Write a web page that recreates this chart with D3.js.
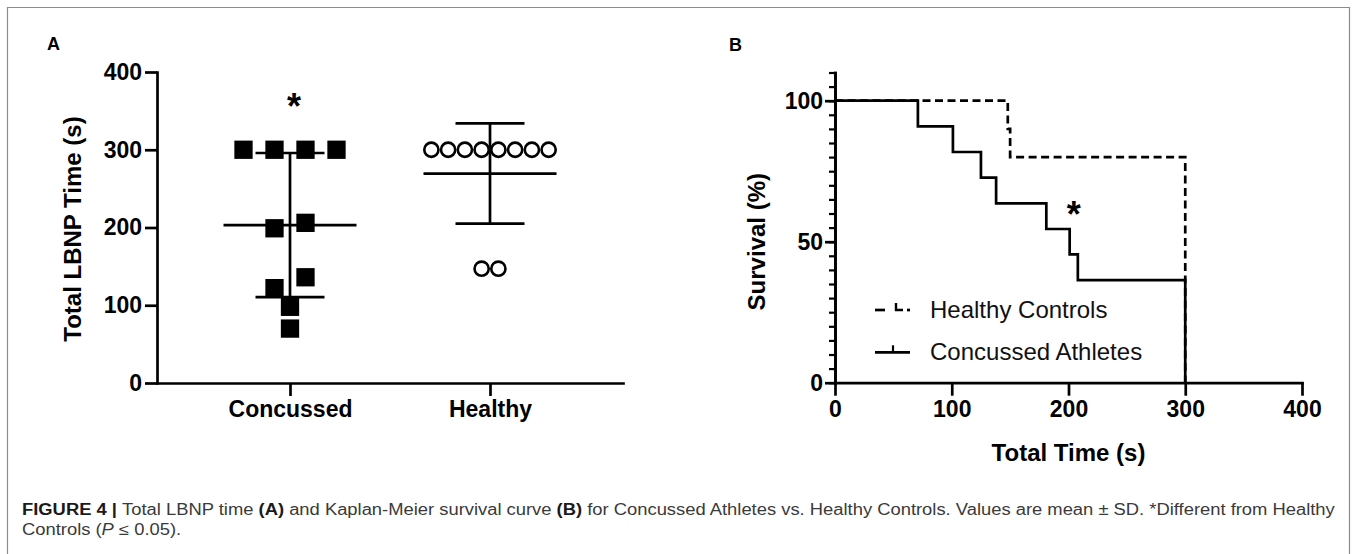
<!DOCTYPE html>
<html>
<head>
<meta charset="utf-8">
<script src="https://cdn.jsdelivr.net/npm/d3@7"></script>
<style>
  html, body { margin: 0; padding: 0; background: #fff; }
  svg { display: block; }
</style>
</head>
<body>
<script>
// ---------------- DATA ----------------
// Panel A: Total LBNP time (s)
const catsA = ["Concussed", "Healthy"];
const concussedValues = [300, 300, 300, 300, 206, 199, 136, 122, 98, 70];
const healthyValues = [300, 300, 300, 300, 300, 300, 300, 300, 147, 147];
const yTicksA = [0, 100, 200, 300, 400];

// Panel B: Kaplan-Meier survival (%)
const concussedTimes = [0, 71, 101, 125, 138, 181, 201, 208, 300];
const concussedSurv  = [100, 90.9, 81.8, 72.7, 63.6, 54.5, 45.5, 36.4, 0];
const healthyTimes = [0, 148, 150, 300];
const healthySurv  = [100, 90, 80, 0];
const xTicksB = [0, 100, 200, 300, 400];
const yTicksB = [0, 50, 100];
const legendLabels = ["Healthy Controls", "Concussed Athletes"];

// ---------------- SETUP ----------------
const W = 1357, H = 554;
const FONT = "'Liberation Sans', Arial, Helvetica, sans-serif";
const LW = 2.7;
const svg = d3.select("body").append("svg").attr("width", W).attr("height", H);
svg.append("rect").attr("width", W).attr("height", H).attr("fill", "#fff");

// frame
svg.append("path")
  .attr("d", "M7.5,554 V7.5 H1349.5 V554")
  .attr("fill", "none").attr("stroke", "#8c8c8c").attr("stroke-width", 1.2);

function styleAxis(g, fontSize) {
  g.selectAll(".domain").attr("stroke", "#000").attr("stroke-width", LW).attr("stroke-linecap", "square");
  g.selectAll(".tick line").attr("stroke", "#000").attr("stroke-width", LW);
  g.selectAll(".tick text").attr("fill", "#000").attr("font-family", FONT)
    .attr("font-weight", "bold").attr("font-size", fontSize);
}

// ---------------- PANEL A ----------------
const yA = d3.scaleLinear().domain([0, 400]).range([383, 72]);
const xA = d3.scalePoint().domain(catsA).range([157, 623]).padding(0.665);

svg.append("text").attr("x", 47).attr("y", 50).text("A")
  .attr("font-family", FONT).attr("font-weight", "bold").attr("font-size", 18);

const gAy = svg.append("g").attr("transform", "translate(157,0)")
  .call(d3.axisLeft(yA).tickValues(yTicksA).tickSize(12).tickSizeOuter(0).tickPadding(3).tickFormat(d3.format("d")));
styleAxis(gAy, 23);
const gAx = svg.append("g").attr("transform", "translate(0,383)")
  .call(d3.axisBottom(xA).tickSize(13).tickSizeOuter(0).tickPadding(5));
styleAxis(gAx, 23);

svg.append("text")
  .attr("transform", "translate(81,229) rotate(-90)")
  .attr("text-anchor", "middle")
  .attr("font-family", FONT).attr("font-weight", "bold").attr("font-size", 24)
  .text("Total LBNP Time (s)");

// layout of points in rows (GraphPad-like scatter)
function rowLayout(values, size, spacing) {
  const items = values.map((v, i) => ({ v, i })).sort((a, b) => b.v - a.v);
  const clusters = [];
  items.forEach(it => {
    const last = clusters[clusters.length - 1];
    if (last && Math.abs(yA(it.v) - yA(last[0].v)) < size) last.push(it);
    else clusters.push([it]);
  });
  const out = [];
  clusters.forEach(cl => {
    cl.sort((a, b) => a.v - b.v);
    cl.forEach((it, k) => out.push({ v: it.v, dx: (k - (cl.length - 1) / 2) * spacing }));
  });
  return out;
}

const SQ = 18.3;
const concPts = rowLayout(concussedValues, SQ, 31);
const healthPts = rowLayout(healthyValues, 16.7, 16.75);

svg.append("g").selectAll("rect").data(concPts).join("rect")
  .attr("x", d => xA("Concussed") + d.dx - SQ / 2)
  .attr("y", d => yA(d.v) - SQ / 2)
  .attr("width", SQ).attr("height", SQ).attr("fill", "#000");

svg.append("g").selectAll("circle").data(healthPts).join("circle")
  .attr("cx", d => xA("Healthy") + d.dx)
  .attr("cy", d => yA(d.v))
  .attr("r", 7.1).attr("fill", "#fff").attr("stroke", "#000").attr("stroke-width", 2.6);

// mean ± SD
function errorBar(cat, vals) {
  const m = d3.mean(vals), s = d3.deviation(vals), cx = xA(cat);
  const g = svg.append("g").attr("stroke", "#000").attr("stroke-width", LW);
  g.append("line").attr("x1", cx).attr("x2", cx).attr("y1", yA(m - s)).attr("y2", yA(m + s));
  [m - s, m + s].forEach(v => g.append("line").attr("x1", cx - 34.5).attr("x2", cx + 34.5).attr("y1", yA(v)).attr("y2", yA(v)));
  g.append("line").attr("x1", cx - 66.5).attr("x2", cx + 66.5).attr("y1", yA(m)).attr("y2", yA(m));
}
errorBar("Concussed", concussedValues);
errorBar("Healthy", healthyValues);

svg.append("text").attr("x", xA("Concussed") + 4).attr("y", 119).attr("text-anchor", "middle")
  .attr("font-family", FONT).attr("font-weight", "bold").attr("font-size", 36).text("*");

// ---------------- PANEL B ----------------
const xB = d3.scaleLinear().domain([0, 400]).range([835, 1302]);
const yB = d3.scaleLinear().domain([0, 100]).range([382.7, 100.7]);
const yBaxis = d3.scaleLinear().domain([0, 110]).range([yB(0), yB(110)]);

svg.append("text").attr("x", 729).attr("y", 51).text("B")
  .attr("font-family", FONT).attr("font-weight", "bold").attr("font-size", 18);

const gBminor = svg.append("g").attr("transform", "translate(835,0)")
  .call(d3.axisLeft(yBaxis).tickValues(d3.range(0, 111, 5)).tickSize(6).tickSizeOuter(0).tickFormat(""));
styleAxis(gBminor, 22);
gBminor.selectAll(".tick line").attr("stroke-width", 2.2);
const gBy = svg.append("g").attr("transform", "translate(835,0)")
  .call(d3.axisLeft(yBaxis).tickValues(yTicksB).tickSize(10).tickSizeOuter(0).tickPadding(2));
styleAxis(gBy, 23);
const gBx = svg.append("g").attr("transform", "translate(0,382.7)")
  .call(d3.axisBottom(xB).tickValues(xTicksB).tickSize(13).tickSizeOuter(0).tickPadding(5));
styleAxis(gBx, 23);

svg.append("text")
  .attr("transform", "translate(765,241.7) rotate(-90)")
  .attr("text-anchor", "middle")
  .attr("font-family", FONT).attr("font-weight", "bold").attr("font-size", 24)
  .text("Survival (%)");
svg.append("text").attr("x", (xB(0) + xB(400)) / 2).attr("y", 461).attr("text-anchor", "middle")
  .attr("font-family", FONT).attr("font-weight", "bold").attr("font-size", 24)
  .text("Total Time (s)");

const stepLine = d3.line().x(d => xB(d.t)).y(d => yB(d.s)).curve(d3.curveStepAfter);
const healthySeries = healthyTimes.map((t, i) => ({ t, s: healthySurv[i] }));
const concSeries = concussedTimes.map((t, i) => ({ t, s: concussedSurv[i] }));

svg.append("path").attr("d", stepLine(healthySeries)).attr("fill", "none")
  .attr("stroke", "#000").attr("stroke-width", LW).attr("stroke-dasharray", "8,4.5");
svg.append("path").attr("d", stepLine(concSeries)).attr("fill", "none")
  .attr("stroke", "#000").attr("stroke-width", LW);

svg.append("text").attr("x", xB(201) + 4).attr("y", 227).attr("text-anchor", "middle")
  .attr("font-family", FONT).attr("font-weight", "bold").attr("font-size", 36).text("*");

// legend
const lg = svg.append("g").attr("stroke", "#000");
const legY = [310, 352.3];
// dashed symbol: dash, censor mark, dot
lg.append("line").attr("x1", 875).attr("x2", 885).attr("y1", legY[0]).attr("y2", legY[0]).attr("stroke-width", LW);
lg.append("path").attr("d", `M896,${legY[0] - 7} V${legY[0]} H903`).attr("fill", "none").attr("stroke-width", 2.4);
lg.append("line").attr("x1", 907).attr("x2", 910).attr("y1", legY[0]).attr("y2", legY[0]).attr("stroke-width", LW);
// solid symbol
lg.append("line").attr("x1", 875).attr("x2", 910).attr("y1", legY[1]).attr("y2", legY[1]).attr("stroke-width", LW);
lg.append("line").attr("x1", 893).attr("x2", 893).attr("y1", legY[1] - 7).attr("y2", legY[1]).attr("stroke-width", 2.2);
svg.append("g").selectAll("text").data(legendLabels).join("text")
  .attr("x", 930).attr("y", (d, i) => legY[i] + 8)
  .attr("font-family", FONT).attr("font-size", 24).attr("fill", "#111")
  .text(d => d);

// ---------------- CAPTION ----------------
const cap1 = [
  { t: "FIGURE 4 | ", b: true },
  { t: "Total LBNP time ", b: false },
  { t: "(A)", b: true },
  { t: " and Kaplan-Meier survival curve ", b: false },
  { t: "(B)", b: true },
  { t: " for Concussed Athletes vs. Healthy Controls. Values are mean \u00B1 SD. *Different from Healthy", b: false }
];
const cap2 = [
  { t: "Controls (", b: false },
  { t: "P", b: false, i: true },
  { t: " \u2264 0.05).", b: false }
];
const capG = svg.append("g").attr("transform", "translate(22,0) scale(1.149,1)");
function caption(parts, y) {
  const t = capG.append("text").attr("x", 0).attr("y", y)
    .attr("font-family", FONT).attr("font-size", 16).attr("fill", "#3a3a3a");
  parts.forEach(p => t.append("tspan").text(p.t)
    .attr("font-weight", p.b ? "bold" : "normal")
    .attr("fill", p.b ? "#1a1a1a" : "#3a3a3a")
    .attr("font-style", p.i ? "italic" : "normal"));
}
caption(cap1, 515);
caption(cap2, 535);
</script>
</body>
</html>
